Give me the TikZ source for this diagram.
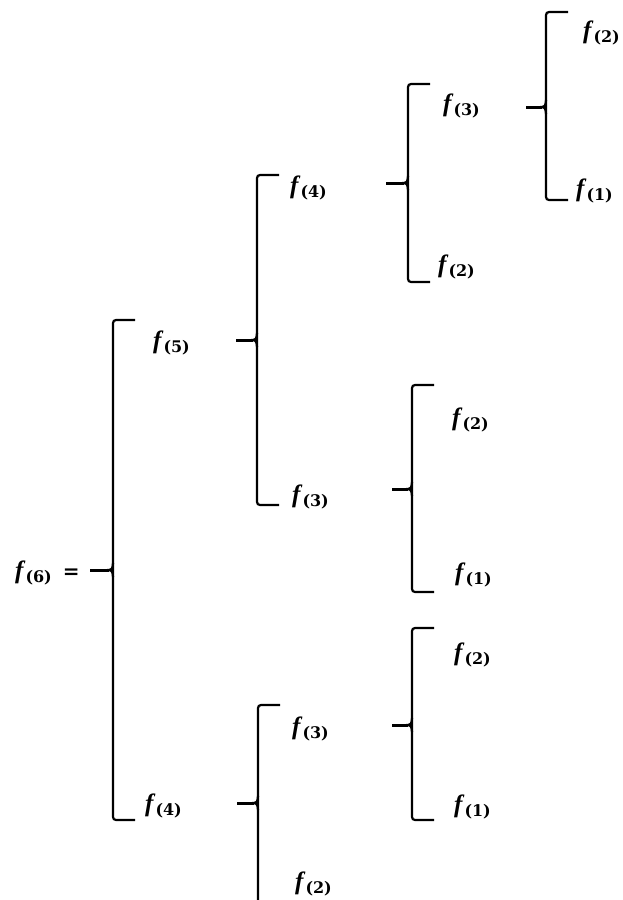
\documentclass[tikz,border=0pt]{standalone}
\usepackage{fontspec}
\newfontfamily\labfont{Liberation Serif}
\newfontfamily\subfont{DejaVu Serif}
\tikzset{
  brkline/.style={line width=2.2pt, rounded corners=3pt},
  brktick/.style={line width=3pt},
  lab/.style={inner sep=0pt, anchor=base west, font=\labfont\bfseries}
}
\newcommand\mybrk[5]{%
  \draw[brkline] (#1+22,#2) -- (#1,#2) -- (#1,#4) -- (#1+22,#4);
  \draw[brktick] (#1-#5,#3) -- (#1-4,#3);
  \draw[line width=2.2pt] (#1,#3-7) .. controls (#1,#3-1) and (#1-2,#3) .. (#1-5,#3)
     .. controls (#1-2,#3) and (#1,#3+1) .. (#1,#3+7);
}
\newcommand\ff[1]{{\fontsize{25}{28}\selectfont\itshape f}\kern2pt\raisebox{-4pt}{\subfont\bfseries\fontsize{16}{19}\selectfont (#1)}}
\begin{document}
\begin{tikzpicture}[x=1pt,y=-1pt]
\useasboundingbox (0,0) rectangle (623,900);
% brackets
\mybrk{113}{320}{570}{820}{23}
\mybrk{257}{175}{340}{505}{21}
\mybrk{408}{84}{183}{282}{22}
\mybrk{546}{12}{107}{200}{20}
\mybrk{412}{385}{489}{592}{20}
\mybrk{412}{628}{725}{820}{20}
\mybrk{258}{705}{803}{910}{21}
% labels
\node[lab] (f6) at (15,578) {\ff{6}\kern11pt{\subfont\bfseries\fontsize{20}{23}\selectfont =}};
\node[lab] (f5) at (153,348) {\ff{5}};
\node[lab] (f4a) at (145,811) {\ff{4}};
\node[lab] (f4b) at (290,193) {\ff{4}};
\node[lab] (f3a) at (292,502) {\ff{3}};
\node[lab] (f3b) at (443,111) {\ff{3}};
\node[lab] (f2a) at (438,272) {\ff{2}};
\node[lab] (f2b) at (583,38) {\ff{2}};
\node[lab] (f1a) at (576,196) {\ff{1}};
\node[lab] (f2c) at (452,425) {\ff{2}};
\node[lab] (f1b) at (455,580) {\ff{1}};
\node[lab] (f2d) at (454,660) {\ff{2}};
\node[lab] (f1c) at (454,812) {\ff{1}};
\node[lab] (f3c) at (292,734) {\ff{3}};
\node[lab] (f2e) at (295,889) {\ff{2}};
\end{tikzpicture}
\end{document}
